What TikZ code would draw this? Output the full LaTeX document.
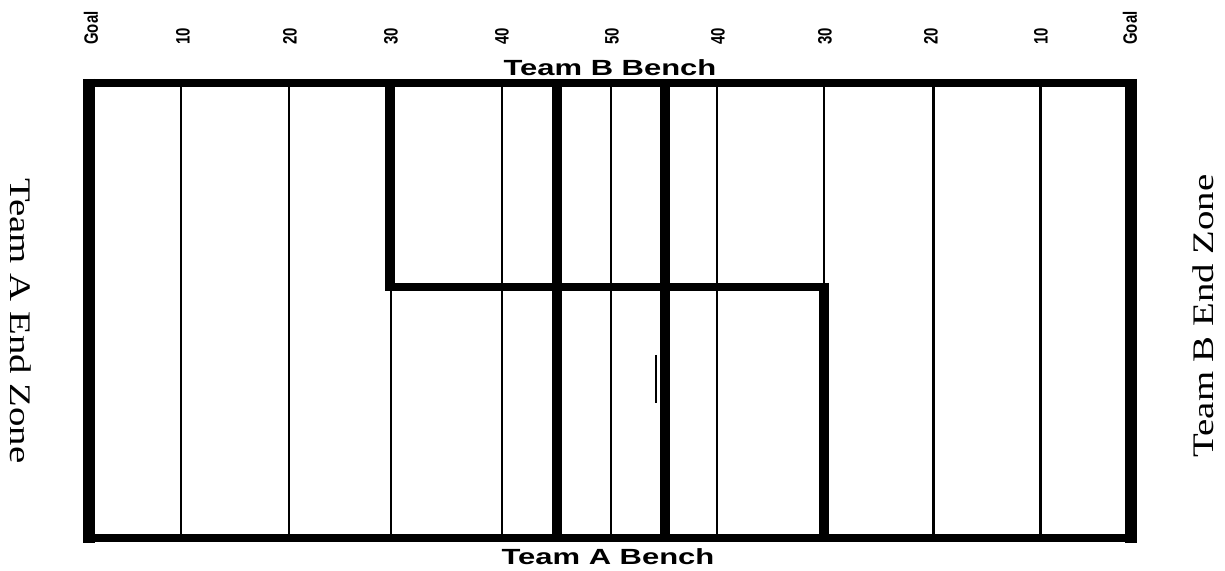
\documentclass[tikz,border=0pt]{standalone}
\usepackage{fontspec}
\usepackage{graphicx}
\usepackage{tikz}
\usetikzlibrary{positioning}
\newfontfamily\yardfont{Liberation Sans}
\newfontfamily\zonefont{Liberation Serif}

\begin{document}
\begin{tikzpicture}[x=0.02cm, y=0.02cm,
    thinline/.style={line width=1.7pt},
    vthick/.style={line width=5.7pt},
    hthick/.style={line width=4.6pt},
    yard/.style={rotate=90, anchor=west, inner sep=0pt, font=\yardfont\bfseries\fontsize{8.5}{10}\selectfont},
    bench/.style={inner sep=0pt, font=\yardfont\bfseries\fontsize{12.5}{14}\selectfont},
    zone/.style={inner sep=0pt, font=\zonefont\fontsize{17}{20}\selectfont}]
    \useasboundingbox (0,0) rectangle (1225,571);

    % Yard lines
    \foreach \xx in {181, 289, 502, 611, 717, 933, 1040}
        \draw[thinline] (\xx,488) -- (\xx,33);
    \draw[thinline] (391,284) -- (391,33);
    \draw[thinline] (824,488) -- (824,284);
    \draw[thinline] (656,216) -- (656,168);

    % Field border
    \draw[hthick] (89,488) -- (1131,488);
    \draw[hthick] (89,33) -- (1131,33);
    \draw[vthick, line width=6.8pt] (89,492) -- (89,28);
    \draw[vthick, line width=6.8pt] (1131,492) -- (1131,28);

    % Thick zone lines
    \draw[vthick] (557,488) -- (557,33);
    \draw[vthick] (665,488) -- (665,33);
    \draw[vthick] (390,488) -- (390,280);
    \draw[hthick] (385,284) -- (829,284);
    \draw[vthick] (824,288) -- (824,33);

    % Yard numbers
    \node[yard] (goalA) at (91,526) {\scalebox{1}[1.3]{Goal}};
    \node[yard] (tenA) at (183,526) {\scalebox{1}[1.3]{10}};
    \node[yard] (twentyA) at (290,526) {\scalebox{1}[1.3]{20}};
    \node[yard] (thirtyA) at (391,526) {\scalebox{1}[1.3]{30}};
    \node[yard] (fortyA) at (502,526) {\scalebox{1}[1.3]{40}};
    \node[yard] (fifty) at (612,526) {\scalebox{1}[1.3]{50}};
    \node[yard] (fortyB) at (718,526) {\scalebox{1}[1.3]{40}};
    \node[yard] (thirtyB) at (825,526) {\scalebox{1}[1.3]{30}};
    \node[yard] (twentyB) at (931,526) {\scalebox{1}[1.3]{20}};
    \node[yard] (tenB) at (1041,526) {\scalebox{1}[1.3]{10}};
    \node[yard] (goalB) at (1130,526) {\scalebox{1}[1.3]{Goal}};

    % Benches
    \node[bench] (benchB) at (610,503) {\scalebox{1.41}[1]{Team B Bench}};
    \node[bench] (benchA) at (608,14) {\scalebox{1.41}[1]{Team A Bench}};

    % End zones
    \node[zone, rotate=-90] (zoneA) at (21,250) {\scalebox{1.3}[1]{Team A End Zone}};
    \node[zone, rotate=90] (zoneB) at (1203,255) {\scalebox{1.3}[1]{Team B End Zone}};
\end{tikzpicture}
\end{document}
